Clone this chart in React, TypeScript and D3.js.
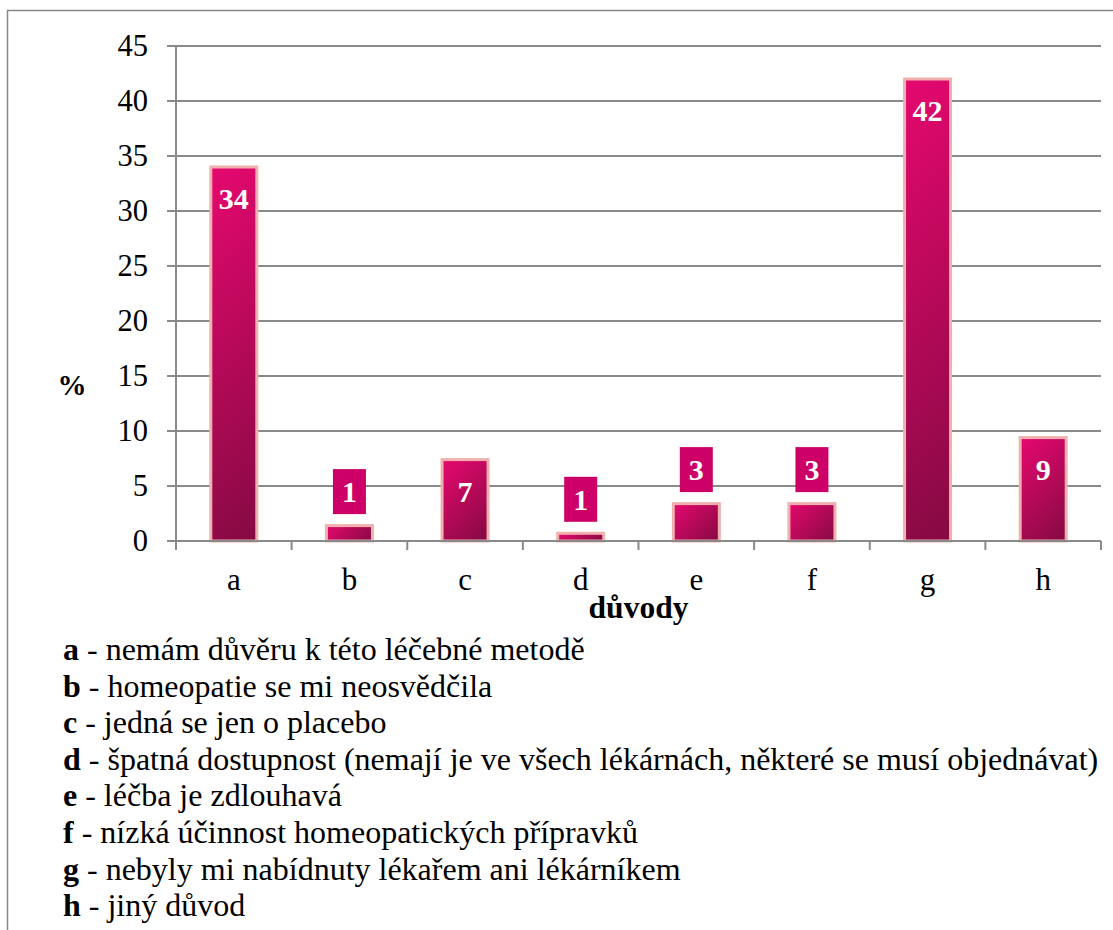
import React from "react";
import * as d3 from "d3";

const categories = ["a", "b", "c", "d", "e", "f", "g", "h"];
const values = [34, 1.4, 7.4, 0.7, 3.4, 3.4, 42, 9.4];
const valueLabels = ["34", "1", "7", "1", "3", "3", "42", "9"];
const yTicks = [0, 5, 10, 15, 20, 25, 30, 35, 40, 45];
const legendKeys = ["a", "b", "c", "d", "e", "f", "g", "h"];
const legendTexts = [
  "nemám důvěru k této léčebné metodě",
  "homeopatie se mi neosvědčila",
  "jedná se jen o placebo",
  "špatná dostupnost (nemají je ve všech lékárnách, některé se musí objednávat)",
  "léčba je zdlouhavá",
  "nízká účinnost homeopatických přípravků",
  "nebyly mi nabídnuty lékařem ani lékárníkem",
  "jiný důvod",
];

const W = 1113;
const H = 930;
const plotLeft = 176;
const plotRight = 1101;
const plotTop = 46;
const plotBottom = 541;
const font = "'Liberation Serif', 'Times New Roman', serif";
const gridColor = "#8a8a8a";

export default function App() {
  const x = d3.scaleBand<string>().domain(categories).range([plotLeft, plotRight]).padding(0);
  const y = d3.scaleLinear().domain([0, 45]).range([plotBottom, plotTop]);
  const barW = 46;

  return (
    <svg
      width={W}
      height={H}
      style={{ position: "absolute", left: 0, top: 0, background: "#fff" }}
      fontFamily={font}
    >
      <defs>
        {categories.map((c, i) => {
          const x0 = (x(c) as number) + x.bandwidth() / 2 - barW / 2;
          const y0 = y(values[i]);
          const h = plotBottom - y0;
          const d = (barW + h) / 2;
          return (
            <linearGradient
              key={c}
              id={`g-${c}`}
              gradientUnits="userSpaceOnUse"
              x1={x0}
              y1={y0}
              x2={x0 + d}
              y2={y0 + d}
            >
              <stop offset="0" stopColor="#e6086f" />
              <stop offset="1" stopColor="#840a42" />
            </linearGradient>
          );
        })}
      </defs>

      {/* outer frame */}
      <rect x={7.5} y={10.5} width={1200} height={1000} fill="none" stroke="#888" strokeWidth={1.5} />

      {/* gridlines + y ticks */}
      {yTicks.map((t) => (
        <g key={t}>
          {t > 0 && (
            <line x1={plotLeft} x2={plotRight} y1={y(t)} y2={y(t)} stroke={gridColor} strokeWidth={2} />
          )}
          <line x1={plotLeft - 9} x2={plotLeft} y1={y(t)} y2={y(t)} stroke={gridColor} strokeWidth={2} />
          <text x={148} y={y(t)} dy="0.34em" textAnchor="end" fontSize={30.5} fill="#000">
            {t}
          </text>
        </g>
      ))}

      {/* bars */}
      {categories.map((c, i) => {
        const x0 = (x(c) as number) + x.bandwidth() / 2 - barW / 2;
        const y0 = y(values[i]);
        return (
          <rect
            key={c}
            x={x0}
            y={y0}
            width={barW}
            height={plotBottom - y0}
            fill={`url(#g-${c})`}
            stroke="#efb0ae"
            strokeWidth={3}
          />
        );
      })}

      {/* axes */}
      <line x1={plotLeft} x2={plotLeft} y1={plotTop} y2={plotBottom} stroke={gridColor} strokeWidth={2} />
      <line x1={plotLeft} x2={plotRight} y1={plotBottom} y2={plotBottom} stroke={gridColor} strokeWidth={2} />
      {d3.range(categories.length + 1).map((k) => {
        const xx = plotLeft + k * x.bandwidth();
        return <line key={k} x1={xx} x2={xx} y1={plotBottom} y2={plotBottom + 9} stroke={gridColor} strokeWidth={2} />;
      })}

      {/* category labels */}
      {categories.map((c) => (
        <text
          key={c}
          x={(x(c) as number) + x.bandwidth() / 2}
          y={590}
          textAnchor="middle"
          fontSize={31}
          fill="#000"
        >
          {c}
        </text>
      ))}

      {/* value labels */}
      {categories.map((c, i) => {
        const cx = (x(c) as number) + x.bandwidth() / 2;
        const top = y(values[i]);
        const inside = plotBottom - top > 60;
        if (inside) {
          return (
            <text key={c} x={cx} y={top + 32} dy="0.34em" textAnchor="middle" fontSize={30} fontWeight="bold" fill="#fff">
              {valueLabels[i]}
            </text>
          );
        }
        const cy = top - 34;
        return (
          <g key={c}>
            <rect x={cx - 16.5} y={cy - 22.5} width={33} height={45} fill="#cc0066" />
            <text x={cx} y={cy} dy="0.34em" textAnchor="middle" fontSize={30} fontWeight="bold" fill="#fff">
              {valueLabels[i]}
            </text>
          </g>
        );
      })}

      {/* axis titles */}
      <text x={72} y={395} textAnchor="middle" fontSize={29} fontWeight="bold" fill="#000">
        %
      </text>
      <text x={(plotLeft + plotRight) / 2} y={618} textAnchor="middle" fontSize={31.5} fontWeight="bold" fill="#000">
        důvody
      </text>

      {/* legend */}
      {legendKeys.map((k, i) => (
        <text key={k} x={63} y={660 + i * 36.6} fontSize={32} fill="#000">
          <tspan fontWeight="bold">{k}</tspan>
          <tspan>{" - " + legendTexts[i]}</tspan>
        </text>
      ))}
    </svg>
  );
}
